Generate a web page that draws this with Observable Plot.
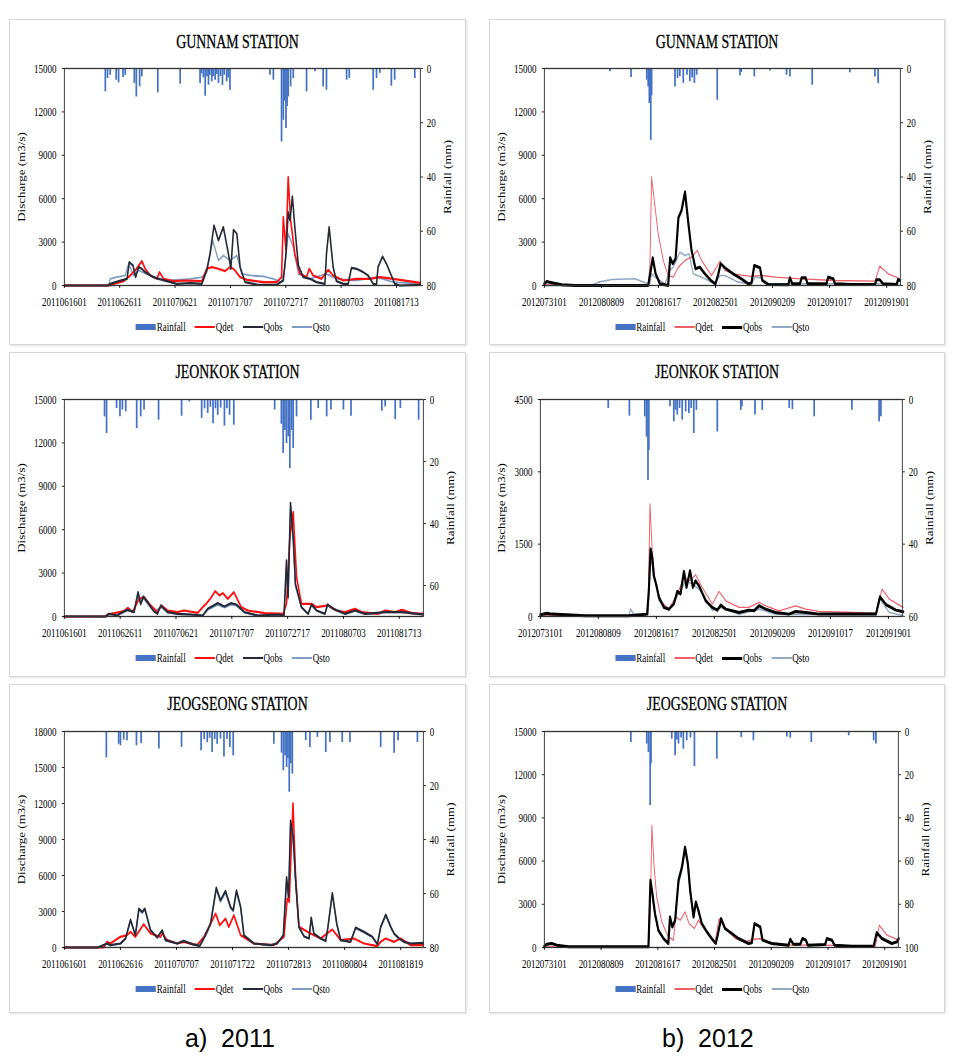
<!DOCTYPE html>
<html><head><meta charset="utf-8">
<script src="https://cdn.jsdelivr.net/npm/d3@7"></script>
<script src="https://cdn.jsdelivr.net/npm/@observablehq/plot@0.6"></script>
<style>
body{margin:0;background:#fff;width:967px;height:1058px;position:relative;overflow:hidden;font-family:"Liberation Serif",serif;}
.box{position:absolute;border:1px solid #d6d6d6;box-shadow:1px 1px 2px #e0e0e0;background:#fff;box-sizing:border-box;}
.title{position:absolute;text-align:center;font-size:18.5px;font-weight:normal;transform:scaleX(0.75);white-space:nowrap;color:#000;font-family:"Liberation Serif",serif;-webkit-text-stroke:0.3px #000;}
.layer{position:absolute;transform-origin:0 0;}
.legend{position:absolute;display:flex;align-items:center;justify-content:center;font-size:12.5px;transform:scaleX(0.72);white-space:nowrap;font-family:"Liberation Serif",serif;}
.legend .sw{display:inline-block;width:28px;margin-right:1px;}
.legend .lab{margin-right:13px;}
.caption{position:absolute;font-family:"Liberation Sans",Arial,sans-serif;font-size:25px;white-space:pre;}
</style></head><body>
<script>
// ---------------- DATA (hours since panel start; discharge m3/s; rainfall mm) ----------------
const ticks2011a = ["2011061601","2011062611","2011070621","2011071707","2011072717","2011080703","2011081713"];
const ticks2011b = ["2011061601","2011062616","2011070707","2011071722","2011072813","2011080804","2011081819"];
const ticks2012 = ["2012073101","2012080809","2012081617","2012082501","2012090209","2012091017","2012091901"];
const end2011a = "2011082201", end2011b = "2011082302", end2012 = "2012092101";

const seriesNames = ["Rainfall","Qdet","Qobs","Qsto"];

const gunnam2011Rain = [[185,8.6],[195,3.7],[207,2.5],[234,4.3],[245,5.3],[265,3.3],[275,2.5],[316,5.5],[325,10.5],[340,6.8],[350,3.1],[422,9.0],[523,5.8],[613,5.5],[620,2.0],[628,3.5],[636,10.2],[644,3.0],[651,6.2],[657,2.5],[666,4.9],[672,3.0],[681,4.3],[688,2.2],[696,5.5],[705,3.0],[714,6.2],[722,2.5],[733,4.9],[740,3.5],[748,8.0],[929,2.5],[944,4.3],[981,27.1],[989,19.1],[995,12.0],[1001,22.1],[1006,14.0],[1011,10.5],[1022,6.8],[1034,3.7],[1094,8.6],[1132,1.2],[1169,6.8],[1184,8.0],[1275,4.3],[1287,3.7],[1395,8.0],[1410,3.7],[1425,1.8],[1477,6.5],[1492,4.3],[1583,3.7]];
const gunnam2011Qdet = [[0,0],[207,0],[222,115],[268,300],[298,692],[320,1039],[350,1685],[365,1154],[388,692],[418,460],[430,923],[448,460],[493,300],[553,346],[621,300],[643,1154],[666,1270],[696,1154],[726,992],[748,1270],[764,1154],[794,577],[824,392],[899,231],[959,231],[981,577],[989,4731],[1001,2423],[1011,7501],[1022,4500],[1041,2193],[1064,808],[1094,577],[1106,1154],[1124,692],[1162,460],[1192,1085],[1214,692],[1260,346],[1320,460],[1380,460],[1425,577],[1485,460],[1608,185]];
const gunnam2011Qobs = [[0,0],[195,0],[207,115],[253,346],[283,460],[293,1615],[310,1385],[322,577],[335,1270],[350,1154],[365,923],[403,577],[425,460],[463,300],[508,115],[568,162],[621,115],[643,1039],[658,2193],[676,4154],[696,3116],[718,4039],[741,2193],[752,1154],[764,3854],[779,3577],[794,1270],[816,231],[869,69],[959,46],[989,346],[1001,2193],[1011,5078],[1019,4500],[1030,6162],[1041,4039],[1057,1385],[1079,577],[1109,460],[1139,231],[1177,115],[1184,2193],[1196,4039],[1214,1270],[1229,300],[1260,115],[1282,115],[1297,1223],[1320,1154],[1350,923],[1372,692],[1395,115],[1410,69],[1417,1270],[1437,2008],[1455,1500],[1477,692],[1492,115],[1515,0],[1608,46]];
const gunnam2011Qsto = [[0,0],[200,0],[207,460],[237,577],[275,692],[290,1500],[313,692],[335,1039],[403,577],[463,346],[508,392],[568,460],[621,577],[643,923],[670,3116],[696,1731],[718,2077],[748,1731],[779,2077],[801,808],[839,692],[899,623],[944,460],[981,231],[996,1270],[1011,3577],[1034,2654],[1057,808],[1109,460],[1184,808],[1229,460],[1320,346],[1410,577],[1485,231],[1608,115]];

const jeonkok2011Rain = [[180,5.6],[189,11.0],[234,2.9],[249,5.6],[260,3.4],[275,4.0],[324,9.4],[342,5.6],[357,3.4],[422,6.7],[525,5.4],[560,0.8],[615,6.1],[628,3.0],[642,4.5],[654,2.5],[666,7.8],[677,3.0],[687,5.1],[700,2.8],[717,8.6],[728,3.0],[740,5.1],[759,8.3],[942,3.4],[972,8.0],[980,17.4],[988,10.0],[995,14.2],[1003,12.0],[1010,22.3],[1018,10.0],[1025,15.8],[1040,5.6],[1104,6.7],[1137,2.9],[1175,5.6],[1194,3.4],[1250,3.4],[1284,5.4],[1422,3.8],[1437,2.4],[1482,6.5],[1505,2.9],[1587,6.7]];
const jeonkok2011Qdet = [[0,0],[185,0],[192,138],[267,369],[285,600],[305,300],[335,1223],[357,1339],[387,762],[417,300],[435,762],[462,415],[507,300],[537,415],[597,254],[620,646],[635,877],[657,1292],[675,1754],[695,1454],[710,1616],[732,1223],[759,1685],[792,646],[822,415],[897,231],[980,185],[995,877],[1010,5493],[1025,7224],[1040,2723],[1062,877],[1107,877],[1130,646],[1182,762],[1220,415],[1257,300],[1302,531],[1332,300],[1407,185],[1437,415],[1482,300],[1512,462],[1557,231],[1608,185]];
const jeonkok2011Qobs = [[0,0],[185,0],[200,185],[237,69],[260,300],[282,462],[312,300],[330,1685],[342,877],[354,1385],[372,992],[402,346],[417,185],[432,762],[462,300],[507,185],[567,138],[620,69],[642,531],[687,923],[717,692],[747,923],[770,831],[807,300],[867,69],[957,138],[984,69],[995,3877],[1002,1339],[1013,7847],[1025,5493],[1035,2262],[1062,646],[1092,185],[1107,831],[1130,415],[1167,185],[1179,831],[1205,531],[1257,185],[1302,415],[1347,185],[1437,300],[1512,300],[1608,138]];
const jeonkok2011Qsto = [[0,0],[185,0],[200,150],[260,250],[282,400],[312,280],[330,1450],[342,800],[354,1250],[372,900],[402,320],[432,650],[462,280],[507,170],[567,120],[620,60],[642,450],[687,800],[717,620],[747,820],[770,750],[807,260],[867,60],[957,120],[984,60],[995,3500],[1002,1200],[1013,7300],[1025,5200],[1035,2100],[1062,600],[1092,170],[1107,760],[1130,380],[1167,170],[1179,760],[1205,480],[1257,170],[1302,380],[1347,170],[1437,280],[1512,280],[1608,120]];

const jeogseong2011Rain = [[191,9.8],[247,4.7],[255,5.3],[270,3.2],[285,3.4],[328,5.3],[349,4.4],[430,6.5],[533,5.9],[622,7.1],[636,3.0],[650,4.1],[661,2.5],[672,7.8],[684,3.0],[695,4.7],[710,2.8],[726,9.4],[740,3.0],[753,5.9],[768,9.0],[953,4.7],[988,8.0],[996,14.5],[1004,9.0],[1011,13.3],[1017,10.0],[1023,22.5],[1030,12.0],[1037,15.8],[1098,3.4],[1117,5.9],[1151,2.2],[1189,7.8],[1208,4.1],[1264,4.1],[1299,4.1],[1439,5.9],[1500,8.1],[1518,3.4],[1606,4.1]];
const jeogseong2011Qdet = [[0,0],[179,0],[194,471],[209,332],[255,886],[285,1025],[301,1301],[323,886],[361,1938],[392,1163],[437,886],[445,1163],[468,609],[513,332],[543,471],[604,194],[635,886],[665,1994],[688,2824],[707,1855],[733,2409],[748,1717],[771,2686],[802,1025],[862,332],[953,194],[999,886],[1014,4070],[1023,3794],[1040,12017],[1052,5870],[1067,1717],[1120,1163],[1166,748],[1204,1301],[1219,1495],[1257,609],[1317,748],[1363,332],[1424,111],[1439,471],[1462,748],[1500,471],[1530,748],[1576,194],[1633,194]];
const jeogseong2011Qobs = [[0,0],[152,0],[194,332],[209,194],[255,332],[278,748],[301,2326],[323,1025],[339,3240],[354,2963],[366,3240],[392,1440],[422,831],[445,1440],[460,609],[513,332],[543,554],[581,277],[616,138],[642,1025],[665,1994],[691,4984],[710,3932],[733,4707],[756,3378],[768,3101],[783,4763],[802,3378],[817,1025],[862,332],[938,194],[968,332],[996,1025],[1011,5870],[1020,4209],[1029,10578],[1041,9193],[1052,5593],[1067,1717],[1090,941],[1113,748],[1123,2492],[1135,1163],[1166,748],[1189,554],[1199,1717],[1219,4541],[1239,1994],[1257,609],[1302,471],[1325,1661],[1363,1301],[1401,886],[1424,277],[1439,1717],[1462,2741],[1485,1717],[1500,1163],[1523,748],[1545,471],[1576,332],[1633,388]];
const jeogseong2011Qsto = [[0,0],[152,0],[194,300],[209,180],[255,300],[278,700],[301,2200],[323,980],[339,3100],[354,2850],[366,3150],[392,1380],[422,800],[445,1380],[460,580],[513,320],[543,530],[581,260],[616,130],[642,980],[665,1900],[691,4800],[710,3800],[733,4550],[756,3250],[768,3000],[783,4600],[802,3250],[817,980],[862,320],[938,190],[968,320],[996,980],[1011,5600],[1020,4050],[1029,10200],[1041,8900],[1052,5400],[1067,1650],[1090,900],[1113,720],[1123,2400],[1135,1120],[1166,720],[1189,530],[1199,1650],[1219,4400],[1239,1920],[1257,590],[1302,450],[1325,1600],[1363,1250],[1401,850],[1424,270],[1439,1650],[1462,2650],[1485,1650],[1500,1120],[1523,720],[1545,450],[1576,320],[1633,370]];

const gunnam2012Rain = [[230,1.2],[304,3.3],[359,4.3],[364,6.8],[368,12.9],[373,26.5],[376,10.0],[458,6.8],[467,3.7],[475,3.0],[487,5.5],[500,2.5],[510,4.9],[518,3.5],[526,5.5],[534,2.5],[606,11.7],[686,2.8],[690,1.5],[736,3.1],[791,0.9],[849,2.5],[861,3.1],[939,6.2],[1071,1.6],[1159,3.1],[1170,5.5]];
const gunnam2012Qdet = [[0,46],[364,46],[370,1385],[376,7501],[388,5424],[399,3577],[417,1731],[434,692],[452,577],[470,1270],[493,1731],[516,1962],[536,2423],[551,1731],[586,692],[616,1685],[633,1039],[668,762],[726,623],[762,692],[808,577],[902,462],[1019,346],[1159,300],[1176,1339],[1205,808],[1240,531]];
const gunnam2012Qobs = [[0,115],[8,277],[26,185],[61,46],[107,0],[364,0],[373,1039],[380,1916],[390,808],[405,115],[434,0],[441,1916],[450,1500],[460,1846],[470,4685],[481,5193],[493,6462],[505,4270],[516,2423],[530,1154],[545,1270],[563,808],[586,300],[600,115],[610,808],[618,1500],[633,1223],[662,808],[691,462],[715,115],[726,162],[736,1385],[756,1223],[764,346],[785,69],[855,46],[861,531],[869,115],[896,115],[902,531],[916,531],[923,115],[989,115],[995,577],[1013,462],[1019,115],[1077,69],[1159,69],[1164,392],[1176,392],[1188,115],[1235,69],[1240,415],[1246,346]];
const gunnam2012Qsto = [[0,0],[166,0],[189,231],[236,415],[318,462],[353,185],[370,115],[376,808],[388,577],[423,115],[440,1039],[452,1270],[475,2308],[493,2077],[507,2193],[522,808],[563,462],[598,115],[616,692],[633,692],[680,231],[726,115],[741,623],[762,462],[785,115],[1240,115]];

const jeonkok2012Rain = [[234,2.5],[307,4.6],[360,4.8],[366,10.4],[371,22.4],[374,14.1],[447,2.0],[460,6.2],[466,3.0],[472,4.3],[480,2.5],[489,5.7],[501,3.4],[512,3.9],[520,2.5],[529,9.4],[538,3.0],[610,9.0],[691,3.0],[695,2.0],[740,4.3],[765,3.0],[858,2.5],[869,2.8],[944,4.8],[1074,3.0],[1168,6.2],[1174,4.8]];
const jeonkok2012Qdet = [[0,14],[351,14],[371,49],[378,2337],[386,1297],[397,673],[414,326],[443,153],[472,465],[495,811],[516,742],[535,867],[558,603],[593,257],[616,520],[639,326],[685,187],[719,187],[754,291],[777,222],[823,118],[880,222],[915,153],[961,104],[1076,83],[1157,62],[1178,569],[1203,361],[1251,187]];
const jeonkok2012Qobs = [[0,35],[23,69],[40,49],[155,14],[305,14],[368,49],[374,534],[380,1401],[386,1227],[391,846],[399,673],[409,395],[426,187],[443,153],[460,257],[472,520],[483,465],[495,936],[504,603],[516,950],[526,603],[535,742],[547,638],[570,326],[593,187],[610,132],[622,236],[639,153],[685,83],[719,132],[737,118],[754,222],[777,153],[811,83],[857,49],[880,104],[915,83],[961,49],[1157,49],[1171,409],[1192,243],[1226,132],[1251,97]];
const jeonkok2012Qsto = [[0,14],[305,14],[311,153],[322,49],[371,35],[380,1227],[409,326],[443,118],[483,534],[501,742],[524,673],[547,569],[593,132],[622,187],[685,49],[754,153],[811,49],[1157,35],[1171,361],[1203,83],[1251,14]];

const jeogseong2012Rain = [[305,5.1],[361,5.8],[367,9.7],[373,34.3],[376,15.1],[449,3.5],[461,11.2],[467,4.0],[473,5.8],[482,3.0],[490,8.2],[502,4.3],[515,3.0],[529,16.3],[608,12.8],[694,2.8],[737,4.3],[855,2.5],[867,3.1],[941,5.1],[1073,2.0],[1161,4.3],[1169,5.8]];
const jeogseong2012Qdet = [[0,46],[367,46],[373,2354],[379,8470],[387,5585],[396,3508],[414,1777],[437,739],[455,508],[463,2123],[479,1893],[496,2470],[510,1662],[529,1316],[543,1893],[567,1200],[602,392],[616,2008],[637,1316],[673,623],[708,392],[731,554],[767,623],[802,277],[873,162],[967,162],[1167,92],[1181,1546],[1208,854],[1249,508]];
const jeogseong2012Qobs = [[0,92],[8,231],[26,277],[44,162],[85,46],[367,46],[374,4662],[381,3739],[390,2354],[402,1200],[420,623],[437,277],[443,2123],[451,1431],[461,1893],[473,4662],[485,5585],[496,6970],[506,5816],[514,3970],[526,2123],[534,3162],[543,2585],[555,1662],[573,1085],[590,623],[604,277],[611,854],[623,2008],[637,1316],[661,969],[684,623],[720,277],[731,323],[741,1662],[761,1431],[769,508],[802,277],[861,162],[867,577],[878,231],[902,231],[910,623],[922,508],[929,162],[990,208],[996,623],[1014,508],[1023,162],[1084,92],[1161,92],[1172,1039],[1190,623],[1225,277],[1243,392],[1249,623]];
const jeogseong2012Qsto = [[0,80],[8,200],[26,250],[44,150],[85,40],[367,40],[374,4300],[381,3500],[390,2200],[402,1100],[420,580],[437,250],[443,2000],[451,1350],[461,1800],[473,4400],[485,5300],[496,6700],[506,5600],[514,3800],[526,2050],[534,3050],[543,2500],[555,1600],[573,1040],[590,600],[604,260],[611,820],[623,1950],[637,1270],[661,930],[684,600],[720,260],[731,310],[741,1600],[761,1380],[769,490],[802,260],[861,150],[867,550],[878,220],[902,220],[910,600],[922,490],[929,150],[990,200],[996,600],[1014,490],[1023,150],[1084,85],[1161,85],[1172,1000],[1190,600],[1225,260],[1243,370],[1249,600]];

const dischargeTicks15000 = [0,3000,6000,9000,12000,15000];
const dischargeTicks18000 = [0,3000,6000,9000,12000,15000,18000];
const dischargeTicks4500 = [0,1500,3000,4500];
const rainTicks80 = [0,20,40,60,80];
const rainTicks70 = [0,20,40,60];
const rainTicks60 = [0,20,40,60];
const rainTicks100 = [0,20,40,60,80,100];

// ---------------- STYLE ----------------
const S = 0.72; // horizontal compression of the original figure
const parse = d3.utcParse("%Y%m%d%H");
const hoursFrom = start => s => (parse(s) - parse(start)) / 3600000;

const style2011 = {rain:"#4472C4", qdet:"#FF1010", qobs:"#252a38", qsto:"#7f9cc4", wdet:2.2, wobs:2.2, wsto:1.8};
const style2012 = {rain:"#4472C4", qdet:"#EE5F68", qobs:"#000000", qsto:"#92a9c6", wdet:1.3, wobs:3, wsto:1.6};

const panels = [
  {title:"GUNNAM STATION", box:[9,19,457,326], plot:{left:64,right:420,top:68,bottom:285}, titleY:43, legendY:327,
   ticks:ticks2011a, end:end2011a, yMax:15000, yTicks:dischargeTicks15000, rainMax:80, rainTicks:rainTicks80,
   rain:gunnam2011Rain, qdet:gunnam2011Qdet, qobs:gunnam2011Qobs, qsto:gunnam2011Qsto, st:style2011},
  {title:"JEONKOK STATION", box:[9,352,457,325], plot:{left:64,right:423,top:399,bottom:616}, titleY:373, legendY:658,
   ticks:ticks2011a, end:end2011a, yMax:15000, yTicks:dischargeTicks15000, rainMax:70, rainTicks:rainTicks70,
   rain:jeonkok2011Rain, qdet:jeonkok2011Qdet, qobs:jeonkok2011Qobs, qsto:jeonkok2011Qsto, st:style2011},
  {title:"JEOGSEONG STATION", box:[9,684,457,329], plot:{left:64,right:423,top:731,bottom:947}, titleY:705, legendY:989,
   ticks:ticks2011b, end:end2011b, yMax:18000, yTicks:dischargeTicks18000, rainMax:80, rainTicks:rainTicks80,
   rain:jeogseong2011Rain, qdet:jeogseong2011Qdet, qobs:jeogseong2011Qobs, qsto:jeogseong2011Qsto, st:style2011},
  {title:"GUNNAM STATION", box:[489,19,456,326], plot:{left:544,right:900,top:68,bottom:285}, titleY:43, legendY:327,
   ticks:ticks2012, end:end2012, yMax:15000, yTicks:dischargeTicks15000, rainMax:80, rainTicks:rainTicks80,
   rain:gunnam2012Rain, qdet:gunnam2012Qdet, qobs:gunnam2012Qobs, qsto:gunnam2012Qsto, st:style2012},
  {title:"JEONKOK STATION", box:[489,352,456,325], plot:{left:540,right:902,top:399,bottom:616}, titleY:373, legendY:658,
   ticks:ticks2012, end:end2012, yMax:4500, yTicks:dischargeTicks4500, rainMax:60, rainTicks:rainTicks60,
   rain:jeonkok2012Rain, qdet:jeonkok2012Qdet, qobs:jeonkok2012Qobs, qsto:jeonkok2012Qsto, st:style2012},
  {title:"JEOGSEONG STATION", box:[489,684,456,329], plot:{left:544,right:898,top:731,bottom:947}, titleY:705, legendY:989,
   ticks:ticks2012, end:end2012, yMax:15000, yTicks:dischargeTicks15000, rainMax:100, rainTicks:rainTicks100,
   rain:jeogseong2012Rain, qdet:jeogseong2012Qdet, qobs:jeogseong2012Qobs, qsto:jeogseong2012Qsto, st:style2012}
];

function el(tag, cls, css) {
  const e = document.createElement(tag);
  if (cls) e.className = cls;
  Object.assign(e.style, css || {});
  document.body.appendChild(e);
  return e;
}

for (const p of panels) {
  const [bx, by, bw, bh] = p.box;
  el("div", "box", {left:bx+"px", top:by+"px", width:bw+"px", height:bh+"px"});
  const t = el("div", "title", {left:bx+"px", width:bw+"px", top:(p.titleY-11)+"px"});
  t.textContent = p.title;

  const hr = hoursFrom(p.ticks[0]);
  const xEnd = hr(p.end);
  const tickHours = p.ticks.map(hr);
  const labelOf = new Map(tickHours.map((h, i) => [h, p.ticks[i]]));

  const svgH = p.plot.bottom - by + 28;
  const common = {
    width: bw / S, height: svgH,
    marginLeft: (p.plot.left - bx) / S, marginRight: (bx + bw - p.plot.right) / S,
    marginTop: p.plot.top - by, marginBottom: svgH - (p.plot.bottom - by),
    style: {fontFamily: "'Liberation Serif', serif", fontSize: "12.5px", background: "transparent", color: "#000", overflow: "visible"}
  };

  const rainPlot = Plot.plot({
    ...common,
    x: {domain: [0, xEnd], axis: null},
    y: {domain: [0, p.rainMax], reverse: true, axis: null},
    marks: [
      Plot.ruleX(p.rain, {x: d => d[0], y1: 0, y2: d => d[1], stroke: p.st.rain, strokeWidth: 2.4}),
      Plot.axisY({anchor: "right", ticks: p.rainTicks, tickSize: 3, tickPadding: 6, label: null, tickFormat: d3.format("d")}),
      Plot.text(["Rainfall (mm)"], {text: d => d, frameAnchor: "right", dx: 28 / S, rotate: -90, textAnchor: "middle", fontSize: 13})
    ]
  });

  const qPlot = Plot.plot({
    ...common,
    x: {domain: [0, xEnd]},
    y: {domain: [0, p.yMax]},
    marks: [
      Plot.line(p.qsto, {x: d => d[0], y: d => d[1], stroke: p.st.qsto, strokeWidth: p.st.wsto}),
      Plot.line(p.qdet, {x: d => d[0], y: d => d[1], stroke: p.st.qdet, strokeWidth: p.st.wdet}),
      Plot.line(p.qobs, {x: d => d[0], y: d => d[1], stroke: p.st.qobs, strokeWidth: p.st.wobs}),
      Plot.frame({stroke: "#333", strokeWidth: 1.3}),
      Plot.axisX({ticks: tickHours, tickFormat: d => labelOf.get(d), tickSize: 3, tickPadding: 9, label: null}),
      Plot.axisY({ticks: p.yTicks, tickFormat: d3.format("d"), tickSize: 3, tickPadding: 8, label: null}),
      Plot.text(["Discharge (m3/s)"], {text: d => d, frameAnchor: "left", dx: -(p.plot.left - bx - 13) / S, rotate: -90, textAnchor: "middle", fontSize: 13})
    ]
  });

  for (const svg of [rainPlot, qPlot]) {
    svg.classList.add("layer");
    Object.assign(svg.style, {left: bx + "px", top: by + "px", transform: `scaleX(${S})`, position: "absolute", transformOrigin: "0 0"});
    document.body.appendChild(svg);
  }

  // legend
  const lg = el("div", "legend", {left: bx + "px", width: bw + "px", top: (p.legendY - 8) + "px", height: "16px"});
  const sw = [
    {h: "6px", c: p.st.rain},
    {h: Math.max(1.5, p.st.wdet) + "px", c: p.st.qdet},
    {h: Math.max(1.5, p.st.wobs) + "px", c: p.st.qobs},
    {h: Math.max(1.5, p.st.wsto) + "px", c: p.st.qsto}
  ];
  seriesNames.forEach((n, i) => {
    const s = document.createElement("span");
    s.className = "sw";
    s.style.height = sw[i].h; s.style.background = sw[i].c;
    const l = document.createElement("span");
    l.className = "lab"; l.textContent = n;
    lg.appendChild(s); lg.appendChild(l);
  });
}

const c1 = el("div", "caption", {left: "185px", top: "1024px"}); c1.textContent = "a)  2011";
const c2 = el("div", "caption", {left: "662px", top: "1024px"}); c2.textContent = "b)  2012";
</script>
</body></html>
